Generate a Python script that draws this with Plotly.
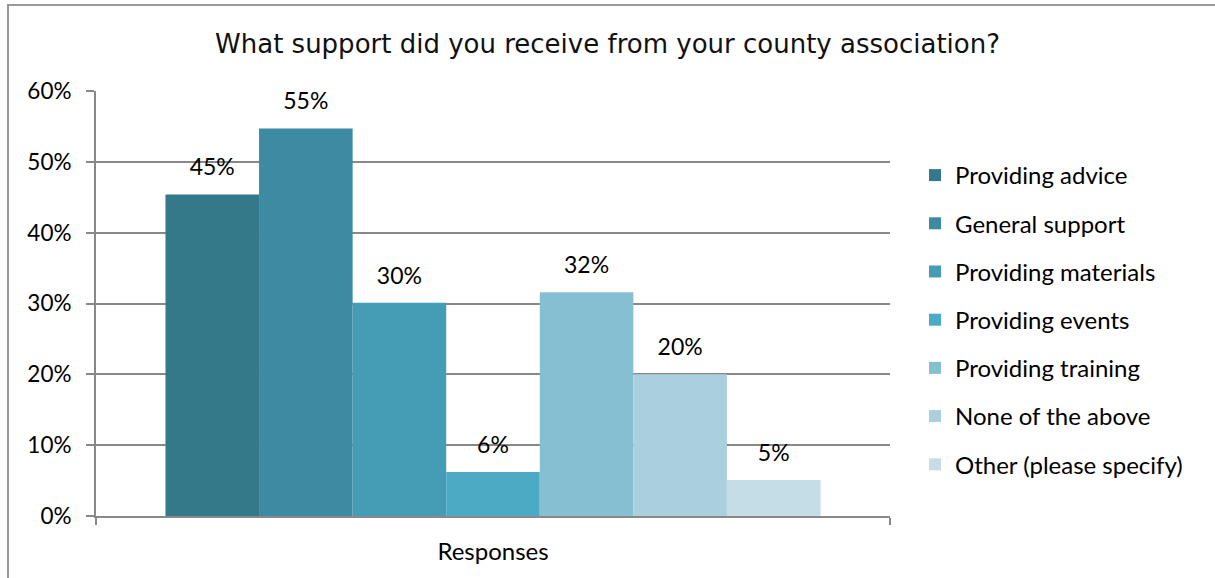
import plotly.graph_objects as go

categories = ["Responses"]
series_names = ["Providing advice", "General support", "Providing materials",
                "Providing events", "Providing training", "None of the above",
                "Other (please specify)"]
values = [0.454, 0.547, 0.301, 0.062, 0.316, 0.200, 0.051]
colors = ["#34798A", "#3C8BA3", "#459DB5", "#4BABC5", "#86BFD1", "#AACFDD", "#C4DDE6"]
y_ticks = [0, 0.1, 0.2, 0.3, 0.4, 0.5, 0.6]

W, H = 1215, 578
ML, MR, MT, MB = 96, 325, 91, 62
FONT = "Lato, Noto Sans, sans-serif"

fig = go.Figure()
for i, (name, v, c) in enumerate(zip(series_names, values, colors)):
    fig.add_trace(go.Bar(
        x=categories, y=[v], name=name, marker_color=c, marker_line_width=0,
        offsetgroup=str(i), legendgroup=name,
    ))
for i, (name, v) in enumerate(zip(series_names, values)):
    fig.add_trace(go.Scatter(
        x=categories, y=[v], mode="markers+text", text=[v], texttemplate="%{y:.0%}",
        textposition="top center", marker=dict(size=20, color="rgba(0,0,0,0)"),
        textfont=dict(family=FONT, size=23, color="#000"),
        offsetgroup=str(i), showlegend=False, hoverinfo="skip", cliponaxis=False,
    ))

pw = W - ML - MR
ph = H - MT - MB
fig.update_layout(
    width=W, height=H,
    margin=dict(l=ML, r=MR, t=MT, b=MB),
    paper_bgcolor="white", plot_bgcolor="white",
    barmode="group", bargap=0.175, bargroupgap=0,
    scattermode="group", scattergap=0.175,
    title=dict(text="What support did you receive from your county association?",
               x=0.5, xref="container", xanchor="center", y=1 - 44 / H, yanchor="middle",
               font=dict(family="DejaVu Sans, sans-serif", size=26, color="#111")),
    legend=dict(x=1 + (915 - (W - MR)) / pw, xanchor="left", y=1 - (176 - 23 - MT) / ph, yanchor="top",
                font=dict(family=FONT, size=24, color="#000"),
                tracegroupgap=14, itemwidth=30, bgcolor="rgba(0,0,0,0)"),
    xaxis=dict(showline=True, linecolor="#888", linewidth=2, ticks="outside", tickson="boundaries",
               ticklen=7, tickcolor="#888", tickwidth=2, ticklabelstandoff=13,
               tickfont=dict(family=FONT, size=24, color="#000"),
               showgrid=False),
    yaxis=dict(range=[0, 0.6], tickvals=y_ticks, tickformat=".0%", showline=True, linecolor="#888",
               linewidth=2, ticks="outside", ticklen=8, tickcolor="#888", tickwidth=2,
               gridcolor="#888", gridwidth=2, zeroline=False, ticklabelstandoff=10,
               tickfont=dict(family=FONT, size=22.5, color="#000")),
    shapes=[dict(type="rect", xref="paper", yref="paper",
                 x0=(8 - ML) / pw, x1=(1240 - ML) / pw,
                 y0=1 - (600 - MT) / ph, y1=1 + (MT - 5) / ph,
                 line=dict(color="#999", width=2), fillcolor="rgba(0,0,0,0)", layer="below")],
    showlegend=True,
)
fig.write_html("out.html", config={"displayModeBar": False},
               post_script="document.body.style.margin='0';document.body.style.overflow='hidden';")
